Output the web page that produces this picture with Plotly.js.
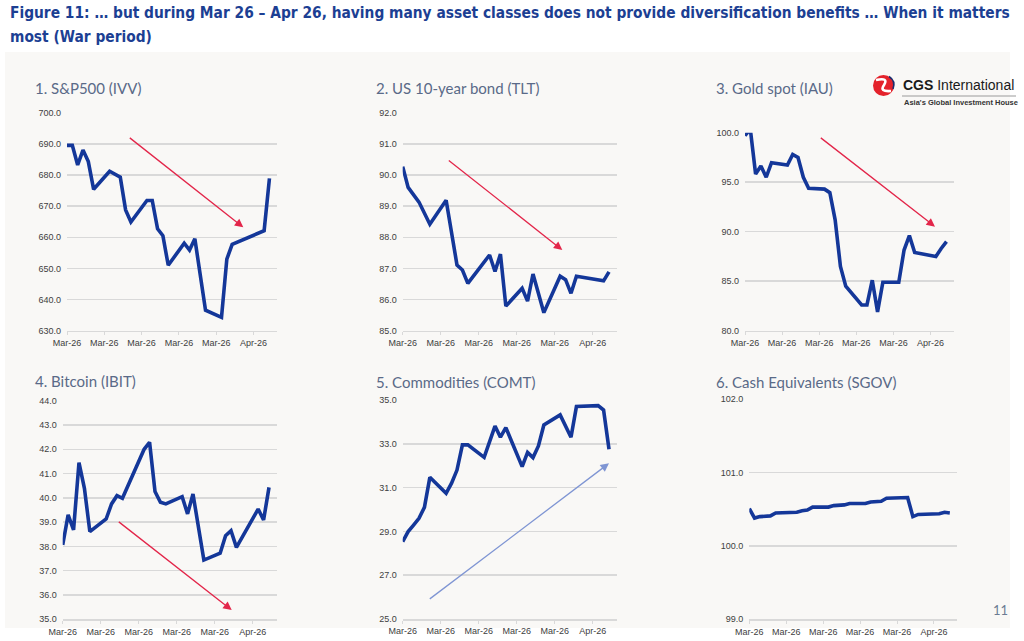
<!DOCTYPE html>
<html>
<head>
<meta charset="utf-8">
<script src="https://cdn.plot.ly/plotly-3.0.1.min.js"></script>
<style>
html,body{margin:0;padding:0;background:#ffffff;}
#chart{width:1024px;height:641px;}
</style>
</head>
<body>
<div id="chart"></div>
<script>
// ---------------- DATA ----------------
const spxDates = ['2026-03-01','2026-03-02','2026-03-03','2026-03-04','2026-03-05','2026-03-06','2026-03-09','2026-03-10','2026-03-11','2026-03-12','2026-03-13','2026-03-16','2026-03-17','2026-03-18','2026-03-19','2026-03-20','2026-03-23','2026-03-24','2026-03-25','2026-03-27','2026-03-30','2026-03-31','2026-04-01','2026-04-07','2026-04-08'];
const spxValues = [689.5,689.5,683.2,688.0,684.3,675.4,681.2,680.2,679.3,668.8,664.9,671.8,671.8,662.7,660.5,651.0,658.1,655.9,659.5,636.6,634.3,653.0,657.7,662.1,678.9];

const tltDates = ['2026-03-01','2026-03-02','2026-03-04','2026-03-06','2026-03-09','2026-03-11','2026-03-12','2026-03-13','2026-03-17','2026-03-18','2026-03-19','2026-03-20','2026-03-23','2026-03-24','2026-03-25','2026-03-27','2026-03-30','2026-03-31','2026-04-01','2026-04-02','2026-04-07','2026-04-08'];
const tltValues = [90.27,89.6,89.13,88.42,89.19,87.11,86.95,86.52,87.43,86.9,87.46,85.79,86.36,85.95,86.82,85.58,86.75,86.64,86.2,86.75,86.6,86.89];

const goldDates = ['2026-03-01','2026-03-02','2026-03-03','2026-03-04','2026-03-05','2026-03-06','2026-03-09','2026-03-10','2026-03-11','2026-03-12','2026-03-13','2026-03-16','2026-03-17','2026-03-18','2026-03-19','2026-03-20','2026-03-23','2026-03-24','2026-03-25','2026-03-26','2026-03-27','2026-03-30','2026-03-31','2026-04-01','2026-04-02','2026-04-06','2026-04-07','2026-04-08'];
const goldValues = [99.7,100.37,95.83,96.64,95.5,96.97,96.74,97.8,97.5,95.5,94.38,94.3,93.94,91.2,86.5,84.5,82.6,82.6,85.1,81.9,84.9,84.9,88.15,89.6,87.9,87.5,88.3,89.0];

const btcDates = ['2026-03-01','2026-03-02','2026-03-03','2026-03-04','2026-03-05','2026-03-06','2026-03-09','2026-03-10','2026-03-11','2026-03-12','2026-03-16','2026-03-17','2026-03-18','2026-03-19','2026-03-20','2026-03-23','2026-03-24','2026-03-25','2026-03-27','2026-03-30','2026-03-31','2026-04-01','2026-04-02','2026-04-06','2026-04-07','2026-04-08'];
const btcValues = [38.06,39.3,38.68,41.45,40.39,38.61,39.13,39.75,40.09,39.98,42.0,42.29,40.26,39.82,39.75,40.05,39.34,40.16,37.44,37.72,38.44,38.65,37.96,39.54,39.09,40.43];

const comtDates = ['2026-03-01','2026-03-02','2026-03-03','2026-03-04','2026-03-05','2026-03-06','2026-03-09','2026-03-10','2026-03-11','2026-03-12','2026-03-13','2026-03-16','2026-03-18','2026-03-19','2026-03-20','2026-03-23','2026-03-24','2026-03-25','2026-03-26','2026-03-27','2026-03-30','2026-04-01','2026-04-02','2026-04-06','2026-04-07','2026-04-08'];
const comtValues = [28.53,28.99,29.29,29.6,30.1,31.47,30.74,31.2,31.8,32.95,32.95,32.38,33.81,33.3,33.74,31.96,32.61,32.37,32.9,33.86,34.32,33.3,34.7,34.74,34.54,32.75];

const sgovDates = ['2026-03-01','2026-03-02','2026-03-03','2026-03-05','2026-03-06','2026-03-10','2026-03-11','2026-03-12','2026-03-13','2026-03-16','2026-03-17','2026-03-19','2026-03-20','2026-03-23','2026-03-24','2026-03-26','2026-03-27','2026-03-31','2026-04-01','2026-04-02','2026-04-06','2026-04-07','2026-04-08'];
const sgovValues = [100.51,100.38,100.40,100.41,100.45,100.46,100.48,100.49,100.53,100.53,100.55,100.56,100.58,100.58,100.60,100.61,100.65,100.66,100.40,100.43,100.44,100.46,100.45];

const panelTitles = ['1. S&P500 (IVV)','2. US 10-year bond (TLT)','3. Gold spot (IAU)','4. Bitcoin (IBIT)','5. Commodities (COMT)','6. Cash Equivalents (SGOV)'];
const yRanges = [[630,700],[85,92],[80,100],[35,44],[25,35],[99,102]];
const yDticks = [10,1,5,1,2,1];
const titleLines = ['Figure 11: … but during Mar 26 – Apr 26, having many asset classes does not provide diversification benefits … When it matters', 'most (War period)'];

// ---------------- LAYOUT HELPERS ----------------
const W = 1024, H = 641;
const fx = x => x / W;
const fy = y => 1 - y / H;

const series = [
  [spxDates, spxValues], [tltDates, tltValues], [goldDates, goldValues],
  [btcDates, btcValues], [comtDates, comtValues], [sgovDates, sgovValues]
];
// plot boxes in pixels: [left, top, right, bottom]
const boxes = [
  [67, 112.7, 277, 330.7],
  [402.7, 112.7, 616.7, 330.7],
  [745, 132.7, 954, 330.7],
  [62.7, 400.7, 276.7, 619.3],
  [402.7, 400, 616.7, 619],
  [749.3, 399.3, 957.3, 619.3]
];
const titlePos = [[33, 88], [374, 88], [714, 88], [33, 381], [373.5, 381.5], [714, 381.5]];

const lineColor = '#143799';
const gridColor = '#d9d9d9';
const tickFont = {family: 'Liberation Sans, Arial, sans-serif', size: 9, color: '#404040'};
const xRange = ['2026-03-01', '2026-04-09 10:00'];

const traces = [];
const layout = {
  width: W, height: H,
  margin: {l: 0, r: 0, t: 0, b: 0},
  paper_bgcolor: '#ffffff',
  plot_bgcolor: 'rgba(0,0,0,0)',
  showlegend: false,
  shapes: [],
  annotations: []
};

// figure title (two lines, as in the reference)
const titleFont = {family: 'Liberation Sans Narrow, Arial Narrow, DejaVu Sans Condensed, sans-serif', size: 15.35, color: '#1c3f93'};
layout.annotations.push({
  text: '<b>' + titleLines[0] + '</b>', xref: 'paper', yref: 'paper',
  x: fx(8), y: fy(13.5), xanchor: 'left', yanchor: 'middle', showarrow: false, font: titleFont
});
layout.annotations.push({
  text: '<b>' + titleLines[1] + '</b>', xref: 'paper', yref: 'paper',
  x: fx(8), y: fy(37), xanchor: 'left', yanchor: 'middle', showarrow: false, font: titleFont
});

layout.shapes.push({
  type: 'rect', xref: 'paper', yref: 'paper', layer: 'below',
  x0: fx(5), x1: fx(1010), y0: fy(628), y1: fy(52),
  fillcolor: '#f9f8f6', line: {width: 0}
});

series.forEach((s, i) => {
  const n = i + 1;
  const sfx = n === 1 ? '' : String(n);
  const b = boxes[i];
  traces.push({
    type: 'scatter', mode: 'lines',
    x: s[0], y: s[1],
    xaxis: 'x' + sfx, yaxis: 'y' + sfx,
    line: {color: lineColor, width: 3.6},
    hoverinfo: 'skip'
  });
  layout['xaxis' + sfx] = {
    domain: [fx(b[0]), fx(b[2])],
    anchor: 'y' + sfx,
    type: 'date', range: xRange,
    tick0: '2026-03-01', dtick: 7 * 86400000, tickformat: '%b-%y',
    ticks: 'outside', ticklen: 3, tickcolor: gridColor, tickwidth: 1,
    showline: true, linecolor: gridColor, linewidth: 1.5,
    showgrid: false, zeroline: false,
    tickfont: tickFont, fixedrange: true
  };
  layout['yaxis' + sfx] = {
    domain: [fy(b[3]), fy(b[1])],
    anchor: 'x' + sfx,
    range: yRanges[i], tick0: yRanges[i][0], dtick: yDticks[i],
    tickformat: '.1f',
    showgrid: true, gridcolor: gridColor, gridwidth: 1.5,
    zeroline: false, showline: false, ticks: '',
    ticklabelstandoff: 5,
    tickfont: tickFont, fixedrange: true
  };
  layout.annotations.push({
    text: panelTitles[i], xref: 'paper', yref: 'paper',
    x: fx(titlePos[i][0]), y: fy(titlePos[i][1]),
    xanchor: 'left', yanchor: 'middle', showarrow: false,
    font: {family: 'Lato, Open Sans, sans-serif', size: 15, color: '#5a6a88'}
  });
});

// trend arrows (head, tail in pixels)
const arrows = [
  {head: [243.3, 227.3], tail: [128.3, 136.7], color: '#e3264a'},
  {head: [562.3, 250], tail: [447.3, 159.3], color: '#e3264a'},
  {head: [935, 226.7], tail: [819.3, 136.7], color: '#e3264a'},
  {head: [231.7, 610], tail: [117.3, 520.7], color: '#e3264a'},
  {head: [609, 463.3], tail: [428.3, 600], color: '#7f95d3'}
];
arrows.forEach(a => {
  layout.annotations.push({
    text: '', xref: 'paper', yref: 'paper',
    x: fx(a.head[0]), y: fy(a.head[1]),
    ax: a.tail[0] - a.head[0], ay: a.tail[1] - a.head[1],
    showarrow: true, arrowhead: 2, arrowsize: 1.3, arrowwidth: 1.3,
    arrowcolor: a.color, standoff: 0, startstandoff: 0
  });
});

// page number
layout.annotations.push({
  text: '11', xref: 'paper', yref: 'paper', x: fx(1000), y: fy(610),
  xanchor: 'center', yanchor: 'middle', showarrow: false,
  font: {family: 'Lato, sans-serif', size: 13, color: '#6b7b93'}
});

// logo
const P = (x, y) => fx(x) + ',' + fy(y);
layout.shapes.push({
  type: 'circle', xref: 'paper', yref: 'paper',
  x0: fx(873), x1: fx(894), y0: fy(96), y1: fy(75),
  fillcolor: '#e4222b', line: {width: 0}
});
layout.shapes.push({
  type: 'path', xref: 'paper', yref: 'paper',
  path: 'M' + P(876, 80) + ' Q' + P(889, 77) + ' ' + P(884, 85) + ' Q' + P(879, 92) + ' ' + P(891, 91),
  line: {color: '#ffffff', width: 2.6}
});
layout.shapes.push({
  type: 'path', xref: 'paper', yref: 'paper',
  path: 'M' + P(889, 76.5) + ' Q' + P(896, 81) + ' ' + P(893, 89),
  line: {color: '#1b2d6e', width: 1.6}
});
layout.shapes.push({
  type: 'line', xref: 'paper', yref: 'paper',
  x0: fx(902), x1: fx(1016), y0: fy(96), y1: fy(96),
  line: {color: '#9a9a9a', width: 1}
});
layout.annotations.push({
  text: '<b>CGS</b> International', xref: 'paper', yref: 'paper',
  x: fx(901), y: fy(85), xanchor: 'left', yanchor: 'middle', showarrow: false,
  font: {family: 'Liberation Sans, Arial, sans-serif', size: 14, color: '#1a1a1a'}
});
layout.annotations.push({
  text: "<b>Asia's Global Investment House</b>", xref: 'paper', yref: 'paper',
  x: fx(902), y: fy(102.5), xanchor: 'left', yanchor: 'middle', showarrow: false,
  font: {family: 'Liberation Sans, Arial, sans-serif', size: 7.5, color: '#333333'}
});

Plotly.newPlot('chart', traces, layout, {staticPlot: true, displayModeBar: false});
</script>
</body>
</html>
